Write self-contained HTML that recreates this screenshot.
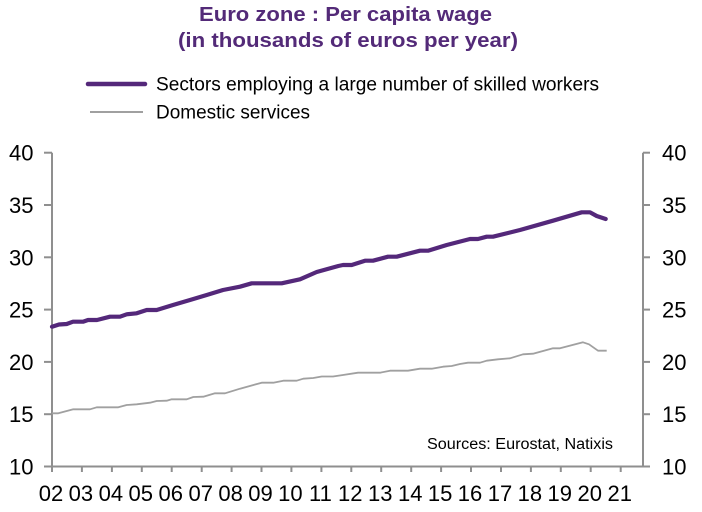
<!DOCTYPE html>
<html>
<head>
<meta charset="utf-8">
<style>
html,body{margin:0;padding:0;background:#fff;}
svg{display:block;}
text{font-family:"Liberation Sans",Arial,sans-serif;}
</style>
</head>
<body>
<svg width="702" height="512" viewBox="0 0 702 512" xmlns="http://www.w3.org/2000/svg">
  <!-- Title -->
  <text x="199" y="21" font-size="20" font-weight="bold" fill="#532a78" textLength="293" lengthAdjust="spacingAndGlyphs">Euro zone : Per capita wage</text>
  <text x="178" y="47" font-size="20" font-weight="bold" fill="#532a78" textLength="340" lengthAdjust="spacingAndGlyphs">(in thousands of euros per year)</text>

  <!-- Legend -->
  <line x1="88" y1="84" x2="145" y2="84" stroke="#54287a" stroke-width="4.5" stroke-linecap="round"/>
  <text x="156" y="90.5" font-size="19" fill="#000" textLength="443" lengthAdjust="spacingAndGlyphs">Sectors employing a large number of skilled workers</text>
  <line x1="90" y1="112" x2="143" y2="112" stroke="#a0a0a0" stroke-width="2"/>
  <text x="156" y="118.3" font-size="19" fill="#000" textLength="154" lengthAdjust="spacingAndGlyphs">Domestic services</text>

  <!-- Axes -->
  <g stroke="#8f8f8f" stroke-width="2" fill="none">
    <line x1="52" y1="152.7" x2="52" y2="466.5"/>
    <line x1="643" y1="152.7" x2="643" y2="466.5"/>
    <line x1="44" y1="466.5" x2="650" y2="466.5"/>
    <!-- left ticks -->
    <line x1="44" y1="152.7" x2="52" y2="152.7"/>
    <line x1="44" y1="205.0" x2="52" y2="205.0"/>
    <line x1="44" y1="257.3" x2="52" y2="257.3"/>
    <line x1="44" y1="309.6" x2="52" y2="309.6"/>
    <line x1="44" y1="361.9" x2="52" y2="361.9"/>
    <line x1="44" y1="414.2" x2="52" y2="414.2"/>
    <!-- right ticks -->
    <line x1="643" y1="152.7" x2="650" y2="152.7"/>
    <line x1="643" y1="205.0" x2="650" y2="205.0"/>
    <line x1="643" y1="257.3" x2="650" y2="257.3"/>
    <line x1="643" y1="309.6" x2="650" y2="309.6"/>
    <line x1="643" y1="361.9" x2="650" y2="361.9"/>
    <line x1="643" y1="414.2" x2="650" y2="414.2"/>
    <!-- bottom ticks -->
    <line x1="52" y1="466.5" x2="52" y2="472"/>
    <line x1="81.9" y1="466.5" x2="81.9" y2="472"/>
    <line x1="111.9" y1="466.5" x2="111.9" y2="472"/>
    <line x1="141.8" y1="466.5" x2="141.8" y2="472"/>
    <line x1="171.7" y1="466.5" x2="171.7" y2="472"/>
    <line x1="201.7" y1="466.5" x2="201.7" y2="472"/>
    <line x1="231.6" y1="466.5" x2="231.6" y2="472"/>
    <line x1="261.5" y1="466.5" x2="261.5" y2="472"/>
    <line x1="291.4" y1="466.5" x2="291.4" y2="472"/>
    <line x1="321.4" y1="466.5" x2="321.4" y2="472"/>
    <line x1="351.3" y1="466.5" x2="351.3" y2="472"/>
    <line x1="381.2" y1="466.5" x2="381.2" y2="472"/>
    <line x1="411.2" y1="466.5" x2="411.2" y2="472"/>
    <line x1="441.1" y1="466.5" x2="441.1" y2="472"/>
    <line x1="471.0" y1="466.5" x2="471.0" y2="472"/>
    <line x1="501.0" y1="466.5" x2="501.0" y2="472"/>
    <line x1="530.9" y1="466.5" x2="530.9" y2="472"/>
    <line x1="560.8" y1="466.5" x2="560.8" y2="472"/>
    <line x1="590.7" y1="466.5" x2="590.7" y2="472"/>
    <line x1="620.7" y1="466.5" x2="620.7" y2="472"/>
  </g>

  <!-- Left labels -->
  <g font-size="22" fill="#000" text-anchor="end">
    <text x="33.5" y="160.7">40</text>
    <text x="33.5" y="213.0">35</text>
    <text x="33.5" y="265.3">30</text>
    <text x="33.5" y="317.6">25</text>
    <text x="33.5" y="369.9">20</text>
    <text x="33.5" y="422.2">15</text>
    <text x="33.5" y="474.5">10</text>
  </g>
  <!-- Right labels -->
  <g font-size="22" fill="#000" text-anchor="start">
    <text x="662" y="160.7">40</text>
    <text x="662" y="213.0">35</text>
    <text x="662" y="265.3">30</text>
    <text x="662" y="317.6">25</text>
    <text x="662" y="369.9">20</text>
    <text x="662" y="422.2">15</text>
    <text x="662" y="474.5">10</text>
  </g>
  <!-- Bottom labels -->
  <g font-size="22" fill="#000" text-anchor="middle">
    <text x="51" y="501">02</text>
    <text x="80.9" y="501">03</text>
    <text x="110.9" y="501">04</text>
    <text x="140.8" y="501">05</text>
    <text x="170.7" y="501">06</text>
    <text x="200.7" y="501">07</text>
    <text x="230.6" y="501">08</text>
    <text x="260.5" y="501">09</text>
    <text x="290.4" y="501">10</text>
    <text x="320.4" y="501">11</text>
    <text x="350.3" y="501">12</text>
    <text x="380.2" y="501">13</text>
    <text x="410.2" y="501">14</text>
    <text x="440.1" y="501">15</text>
    <text x="470.0" y="501">16</text>
    <text x="500.0" y="501">17</text>
    <text x="529.9" y="501">18</text>
    <text x="559.8" y="501">19</text>
    <text x="589.7" y="501">20</text>
    <text x="619.7" y="501">21</text>
  </g>

  <!-- Series: domestic services -->
  <polyline fill="none" stroke="#a0a0a0" stroke-width="1.8" stroke-linejoin="round"
    points="52,413.3 58.3,413.3 73.3,409.3 90,409.3 96.7,407.3 118.3,407.3 126.7,405 136.7,404.3 150,402.7 156.7,401 166.7,400.7 171.7,399.3 186.7,399.3 193.3,397 203.3,396.7 215,393.3 225,393.3 240,388.7 261.7,382.7 273.3,382.7 283.3,380.7 296.7,380.7 303.3,378.7 313.3,378 321.7,376.5 333,376.5 343,375 358,372.7 380,372.7 390,370.7 408,370.7 420,368.7 431.7,368.7 443,366.7 451.7,366 460,364 468,362.7 480,362.7 486.7,360.7 498,359.3 510,358.3 523,354.3 533,353.7 553,348.3 560,348.3 583,342.3 589,344.3 598,350.7 606.7,350.7"/>

  <!-- Series: skilled sectors -->
  <polyline fill="none" stroke="#54287a" stroke-width="4.2" stroke-linejoin="round" stroke-linecap="round"
    points="52,326.7 59,324.5 66.7,324 73,321.7 83,321.7 88,320 97,320 110,316.7 120,316.7 126.7,314.3 136.7,313.3 146.7,310 156.7,310 173,305 190,300 206.7,295 223,290 240,286.7 251.7,283.3 281.7,283.3 300,279.3 316.7,272 338.3,266 343,265 351.7,265 365,260.7 373,260.7 388,256.7 396.7,256.7 420,250.7 428,250.7 446.7,245 470,239 478,239 486.7,236.7 493,236.7 520,230 553,220.7 581.7,212.3 590,212.3 596.7,216 605.7,219"/>

  <!-- Sources -->
  <text x="427" y="449" font-size="15.5" fill="#000" textLength="186" lengthAdjust="spacingAndGlyphs">Sources:  Eurostat,  Natixis</text>
</svg>
</body>
</html>
